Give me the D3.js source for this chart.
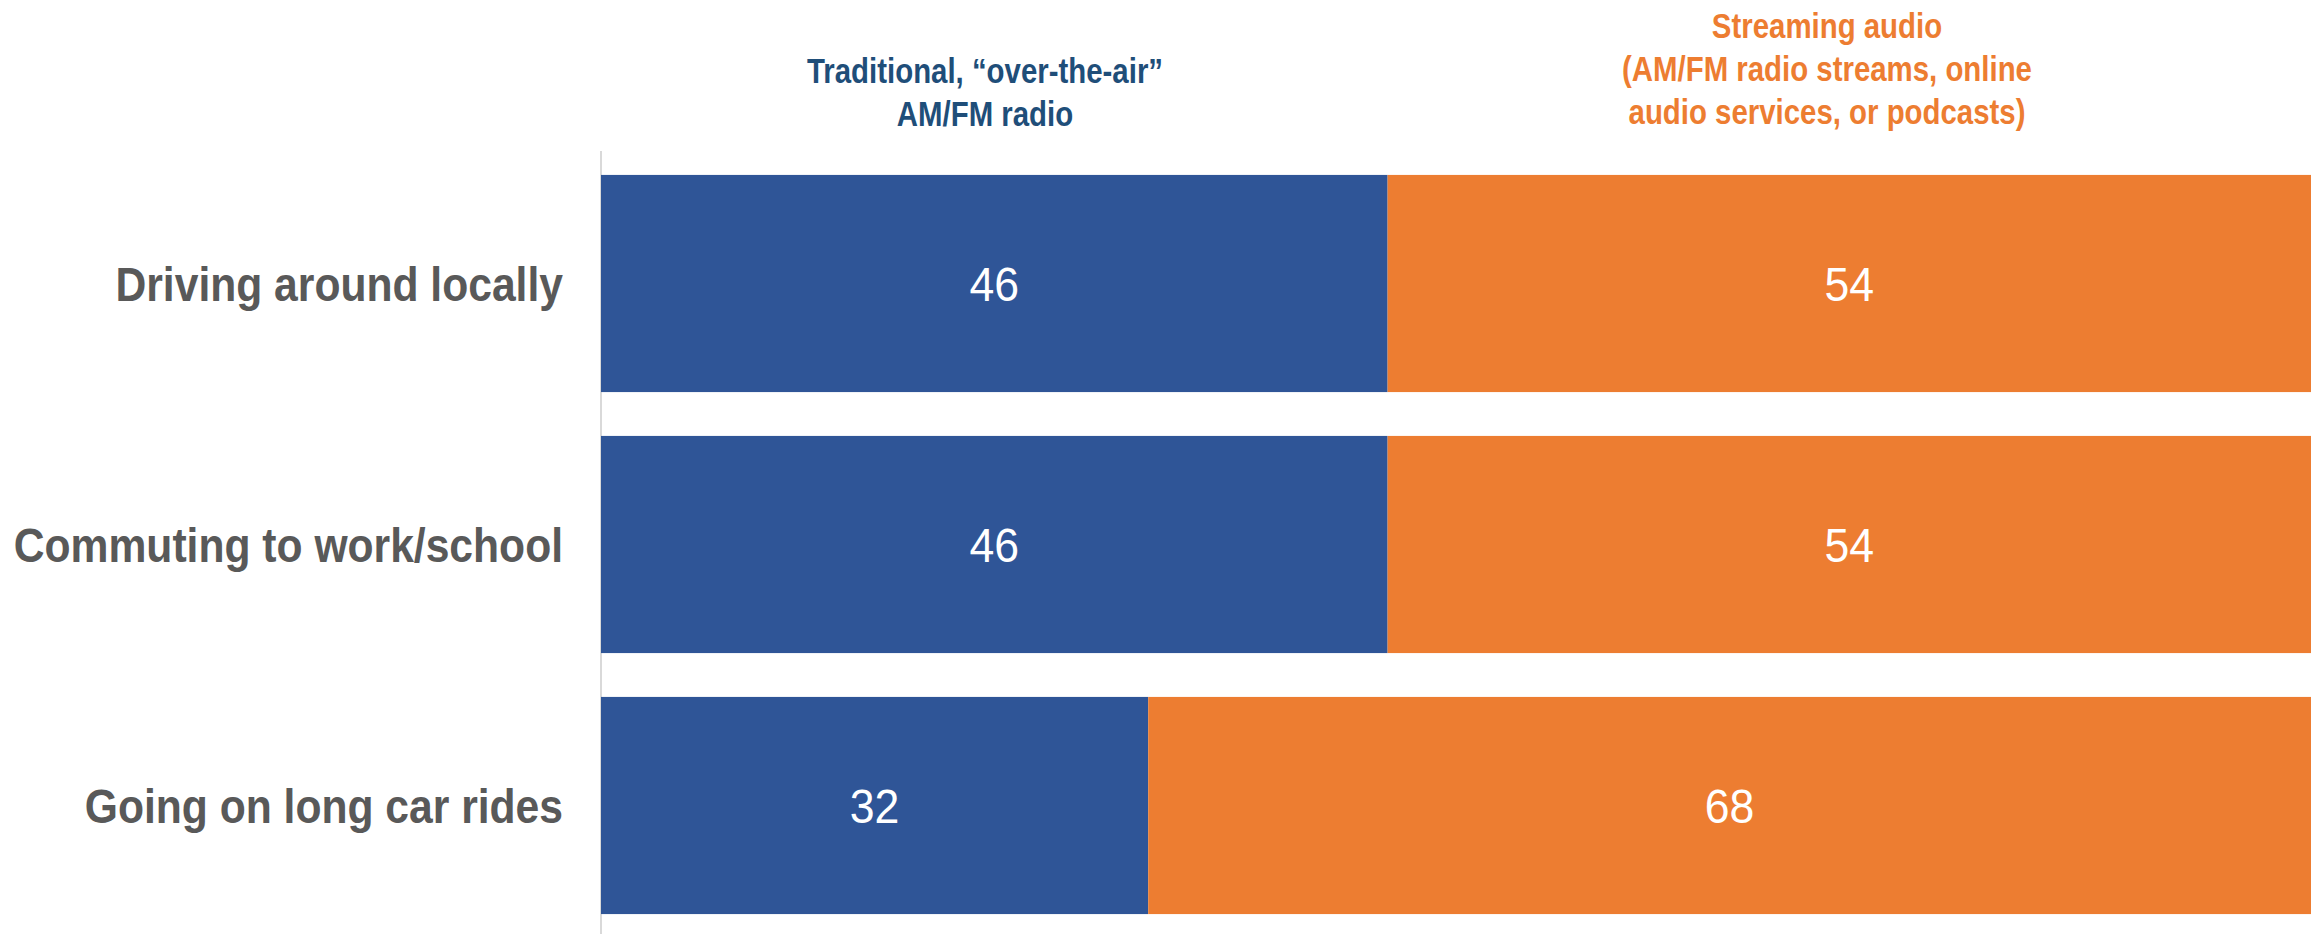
<!DOCTYPE html>
<html>
<head>
<meta charset="utf-8">
<script src="https://cdn.jsdelivr.net/npm/d3@7"></script>
<style>
  html, body { margin: 0; padding: 0; background: #ffffff; }
  svg { display: block; }
</style>
</head>
<body>
<svg id="chart" width="2323" height="934"></svg>
<script>
const categories = ["Driving around locally", "Commuting to work/school", "Going on long car rides"];
const traditional = [46, 46, 32];
const streaming = [54, 54, 68];
const seriesNames = ["traditional", "streaming"];
const headerTraditional = ["Traditional, \u201cover-the-air\u201d", "AM/FM radio"];
const headerStreaming = ["Streaming audio", "(AM/FM radio streams, online", "audio services, or podcasts)"];

const W = 2323, H = 934;
const margin = { left: 601, right: 12, top: 153, bottom: -2 };
const svg = d3.select("#chart");

const colors = { traditional: "#2F5597", streaming: "#ED7D31" };
const textColors = { traditional: "#1F4E79", streaming: "#ED7D31" };

const x = d3.scaleLinear().domain([0, 100]).range([margin.left, W - margin.right]);
const y = d3.scaleBand().domain(categories).range([margin.top, H - margin.bottom])
  .paddingInner(0.168).paddingOuter(0.084);

const rows = categories.map((c, i) => ({ cat: c, traditional: traditional[i], streaming: streaming[i] }));
const stacked = d3.stack().keys(seriesNames)(rows);

// axis line
svg.append("line")
  .attr("x1", x(0)).attr("x2", x(0))
  .attr("y1", margin.top - 2).attr("y2", H)
  .attr("stroke", "#d9d9d9").attr("stroke-width", 2);

const layers = svg.selectAll("g.layer").data(stacked).enter().append("g")
  .attr("class", "layer").attr("fill", d => colors[d.key]);

layers.selectAll("rect").data(d => d).enter().append("rect")
  .attr("x", d => x(d[0]))
  .attr("width", d => x(d[1]) - x(d[0]))
  .attr("y", d => y(d.data.cat))
  .attr("height", y.bandwidth());

// value labels
const sx = 0.93;
stacked.forEach(layer => {
  layer.forEach(d => {
    const cx = (x(d[0]) + x(d[1])) / 2;
    const cy = y(d.data.cat) + y.bandwidth() / 2;
    svg.append("g").attr("transform", `translate(${cx},${cy}) scale(${sx},1)`)
      .append("text")
      .attr("text-anchor", "middle").attr("dy", "0.36em")
      .attr("font-family", "'Liberation Sans', Arial, sans-serif")
      .attr("font-size", 48).attr("fill", "#ffffff")
      .text(d[1] - d[0]);
  });
});

// category labels
const catG = svg.append("g");
categories.forEach(c => {
  catG.append("g")
    .attr("transform", `translate(563,${y(c) + y.bandwidth() / 2}) scale(0.87,1)`)
    .append("text")
    .attr("dy", "0.36em")
    .attr("text-anchor", "end")
    .attr("font-family", "'Liberation Sans', Arial, sans-serif")
    .attr("font-weight", "bold").attr("font-size", 49)
    .attr("fill", "#595959")
    .text(c);
});

// headers
function header(lines, cx, y0, color) {
  const g = svg.append("g").attr("transform", `translate(${cx},0) scale(0.84,1)`);
  g.selectAll("text").data(lines).enter().append("text")
    .attr("x", 0)
    .attr("y", (d, i) => y0 + i * 43)
    .attr("dy", "0.36em")
    .attr("text-anchor", "middle")
    .attr("font-family", "'Liberation Sans', Arial, sans-serif")
    .attr("font-weight", "bold").attr("font-size", 35)
    .attr("fill", color)
    .text(d => d);
}
header(headerTraditional, 985, 70, textColors.traditional);
header(headerStreaming, 1827, 25, textColors.streaming);
</script>
</body>
</html>
